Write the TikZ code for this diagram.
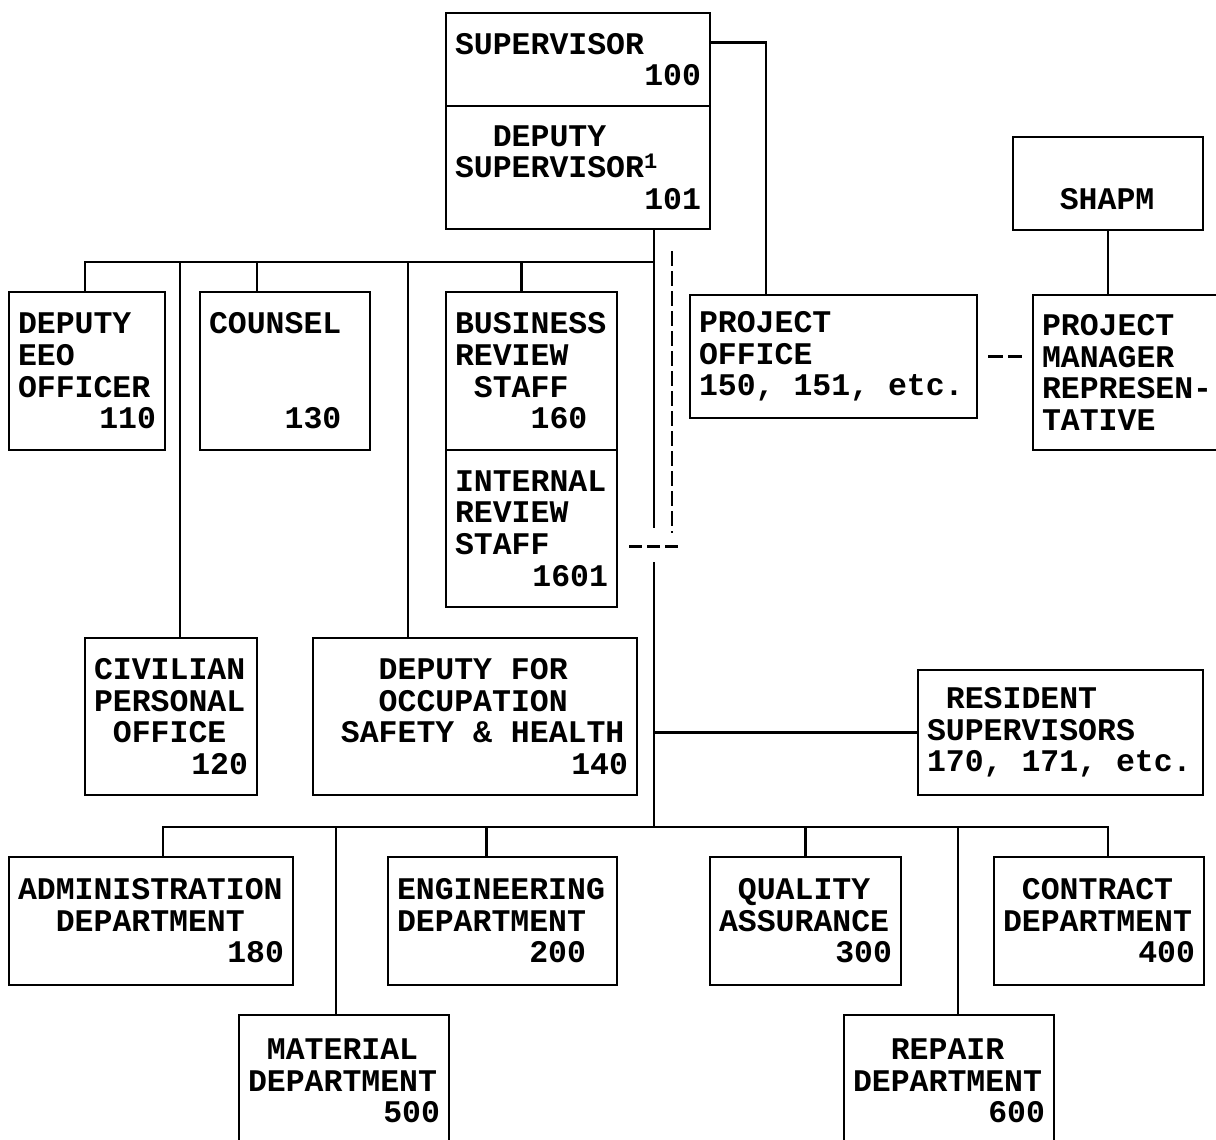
\documentclass[tikz,border=0pt]{standalone}
\usepackage{fontspec}
\usetikzlibrary{positioning}
\newfontfamily\typer{Liberation Mono}
\newcommand\cols[1]{\hspace*{#1\dimexpr0.6em\relax}}
\hyphenpenalty=10000

\tikzset{
  office/.style={rectangle, draw, line width=2.2pt, inner xsep=9pt, inner ysep=0pt,
    align=left, font=\typer\bfseries\fontsize{31.5}{31.6}\selectfont},
  dashline/.style={dashed, dash pattern=on 15pt off 5pt, line width=2.2pt},
  link/.style={line width=2.2pt}
}

\begin{document}
\begin{tikzpicture}[x=1pt, y=-1pt]
\useasboundingbox (0,0) rectangle (1216,1140);
\clip (0,0) rectangle (1216,1140);

%head
\node [office, text width=246pt, minimum height=93pt] (sup) at (578,59.5) {SUPERVISOR\\\hfill100};
\node [office, text width=246pt, minimum height=123pt, below=-2.2pt of sup] (depsup) {\cols{2}DEPUTY\\SUPERVISOR\textsuperscript{1}\\\hfill101};

\node [office, text width=269pt, minimum height=123pt] (po) at (833.5,356.5) {PROJECT\\OFFICE\\150,\cols{1}151,\cols{1}etc.};
\node [office, text width=172pt, minimum height=93pt] (shapm) at (1108,183.5) {\vphantom{S}\\\cols{2}SHAPM};
\node [office, text width=177pt, minimum height=155pt] (pmr) at (1130.5,372.5) {PROJECT\\MANAGER\\REPRESEN-\\TATIVE};

\draw [link] ([yshift=17pt]sup.east) -| ([xshift=-67.5pt]po.north);
\draw [link] (shapm.south) -- (shapm.south |- pmr.north);
\draw [dashline, shorten <=10pt, shorten >=10pt] (po.east) -- (po.east -| pmr.west);

%staff
\node [office, text width=138pt, minimum height=158pt] (eeo) at (87,371) {DEPUTY\\EEO\\OFFICER\\\hfill110};
\node [office, text width=152pt, minimum height=158pt] (counsel) at (285,371) {COUNSEL\\\mbox{}\\\mbox{}\\\cols{4}130};
\node [office, text width=153pt, minimum height=158pt] (business) at (531.5,371) {BUSINESS\\REVIEW\\\cols{1}STAFF\\\cols{4}160};
\node [office, text width=153pt, minimum height=157pt, below=-2.2pt of business] (internal) {INTERNAL\\REVIEW\\STAFF\\\hfill1601};
\node [office, text width=154pt, minimum height=157pt] (civilian) at (171,716.5) {CIVILIAN\\PERSONAL\\\cols{1}OFFICE\\\hfill120};
\node [office, text width=306pt, minimum height=157pt] (occ) at (475,716.5) {\cols{3}DEPUTY\cols{1}FOR\\\cols{3}OCCUPATION\\\cols{1}SAFETY\cols{1}\&\cols{1}HEALTH\\\hfill140};
\node [office, text width=267pt, minimum height=125pt] (resident) at (1060.5,732.5) {\cols{1}RESIDENT\\SUPERVISORS\\170,\cols{1}171,\cols{1}etc.};

\coordinate (topbar) at (654,262);
\coordinate (cut1) at (654,528);
\coordinate (cut2) at (654,562);
\coordinate (lowbar) at (654,827);

\draw [link] (depsup.south -| topbar) -- (cut1);
\draw [link] (cut2) -- (lowbar);
\draw [link] ([xshift=-2pt]eeo.north) |- (topbar);
\draw [link] ([xshift=9pt]civilian.north) |- (topbar);
\draw [link] ([xshift=-28pt]counsel.north) |- (topbar);
\draw [link] ([xshift=-67pt]occ.north) |- (topbar);
\draw [link] ([xshift=-10pt]business.north) |- (topbar);
\draw [link] (resident.west) -- (resident.west -| lowbar);

%dashed tie to internal review
\draw [dashline] ([xshift=94pt,yshift=-21pt]depsup.south) -- ++(0,282);
\draw [dashline, dash pattern=on 13pt off 5pt] ([xshift=11pt,yshift=-18pt]internal.east) -- ++(52,0);

%departments
\node [office, text width=266pt, minimum height=128pt] (admin) at (151,921) {ADMINISTRATION\\\cols{2}DEPARTMENT\\\hfill180};
\node [office, text width=211pt, minimum height=128pt] (eng) at (502.5,921) {ENGINEERING\\DEPARTMENT\\\cols{7}200};
\node [office, text width=173pt, minimum height=128pt] (quality) at (805.5,921) {\cols{1}QUALITY\\ASSURANCE\\\hfill300};
\node [office, text width=192pt, minimum height=128pt] (contract) at (1099,921) {\cols{1}CONTRACT\\DEPARTMENT\\\hfill400};
\node [office, text width=192pt, minimum height=132pt] (material) at (344,1081) {\cols{1}MATERIAL\\DEPARTMENT\\\hfill500};
\node [office, text width=192pt, minimum height=132pt] (repair) at (949,1081) {\cols{2}REPAIR\\DEPARTMENT\\\hfill600};

\draw [link] ([xshift=12pt]admin.north) |- (lowbar);
\draw [link] ([xshift=-8pt]material.north) |- (lowbar);
\draw [link] ([xshift=-16pt]eng.north) |- (lowbar);
\draw [link] (quality.north) |- (lowbar);
\draw [link] ([xshift=9pt]repair.north) |- (lowbar);
\draw [link] ([xshift=9pt]contract.north) |- (lowbar);

\end{tikzpicture}
\end{document}
